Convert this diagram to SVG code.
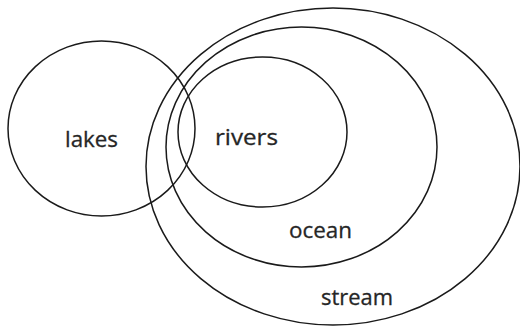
<svg xmlns="http://www.w3.org/2000/svg" width="520" height="326" viewBox="0 0 520 326">
<style>
.c{fill:none;stroke:#1a1a1a;stroke-width:1.5}
.t{font-family:"Open Sans","DejaVu Sans",sans-serif;font-size:22.5px;fill:#262626;stroke:#262626;stroke-width:0.3}
</style>
<rect width="520" height="326" fill="#fff"/>
<g id="stream"><ellipse class="c" cx="333" cy="166.5" rx="187" ry="158.5"/><text class="t" x="321" y="305" textLength="72" lengthAdjust="spacingAndGlyphs">stream</text></g>
<g id="ocean"><ellipse class="c" cx="301.5" cy="147" rx="135.5" ry="120"/><text class="t" x="289" y="238" textLength="63" lengthAdjust="spacingAndGlyphs">ocean</text></g>
<g id="rivers"><ellipse class="c" cx="262.5" cy="132" rx="84.5" ry="75"/><text class="t" x="215" y="145" textLength="63" lengthAdjust="spacingAndGlyphs">rivers</text></g>
<g id="lakes"><ellipse class="c" cx="101.5" cy="128.5" rx="93.5" ry="87.5"/><text class="t" x="65" y="147" textLength="53" lengthAdjust="spacingAndGlyphs">lakes</text></g>
</svg>
